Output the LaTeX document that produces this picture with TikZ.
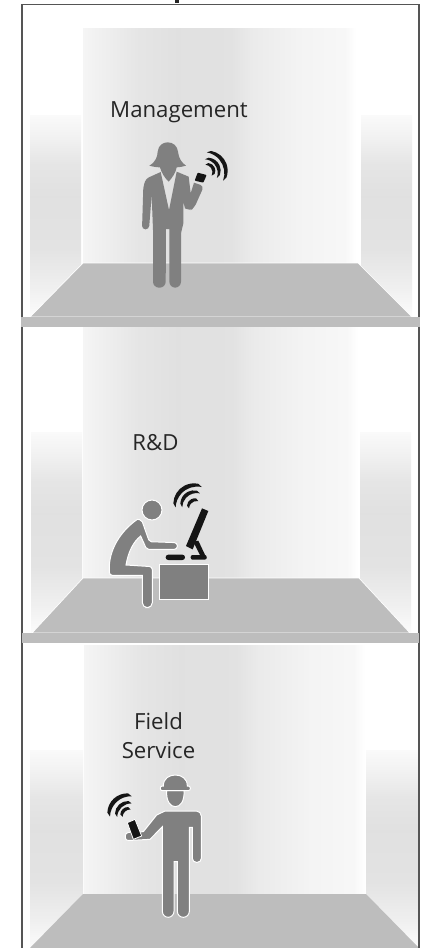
\documentclass[tikz,border=0pt]{standalone}
\usepackage{fontspec}
\setmainfont{Open Sans}
\definecolor{figgray}{HTML}{808080}
\definecolor{floorgray}{HTML}{BDBDBD}
\definecolor{framegray}{HTML}{555555}
\definecolor{inkblack}{HTML}{151515}
\pgfdeclarehorizontalshading{backwall}{100bp}{color(0bp)=(white!96!black); color(25bp)=(white!96!black); color(30bp)=(white!93!black); color(35bp)=(white!90!black); color(42bp)=(white!88!black); color(52bp)=(white!88.5!black); color(56bp)=(white!92!black); color(65bp)=(white!95.5!black); color(73bp)=(white!97!black); color(75bp)=(white); color(100bp)=(white)}
\pgfdeclareverticalshading{sidewall}{100bp}{color(0bp)=(white); color(25bp)=(white!99!black); color(32bp)=(white!94!black); color(42bp)=(white!89!black); color(55bp)=(white!88!black); color(63bp)=(white!90!black); color(70bp)=(white!95!black); color(75bp)=(white!98!black); color(100bp)=(white!98!black)}
\tikzset{
  backwallfill/.style={shading=backwall},
  sidefill/.style={shading=sidewall},
  floorfill/.style={fill=floorgray,draw=white,line width=.7pt},
  barfill/.style={fill=floorgray},
  frameline/.style={draw=framegray,line width=1.1pt},
  label/.style={text=black!85,font=\fontsize{22.2}{26}\selectfont,inner sep=0pt,anchor=base},
  figure/.style={fill=figgray},
  figureout/.style={fill=figgray,draw=white,line width=1pt},
  inkfill/.style={fill=inkblack},
  inkout/.style={fill=inkblack,draw=white,line width=.8pt},
}
% centre x, centre y, start angle, end angle, outer radius, middle width, taper offset
\newcommand\crescent[7]{%
  \pgfmathsetmacro\midang{(#3+#4)/2}%
  \pgfmathsetmacro\innerrad{#5+#7-#6}%
  \path[inkfill] ([shift={(#3:#5)}]#1,#2) arc[start angle=#3,end angle=#4,radius=#5]
    -- ([shift={(\midang:-#7)},shift={(#4:\innerrad)}]#1,#2)
    arc[start angle=#4,end angle=#3,radius=\innerrad] -- cycle;}
\begin{document}
\begin{tikzpicture}[x=1pt,y=-1pt]
\useasboundingbox (0,0) rectangle (431,948);
\clip (0,0) rectangle (431,948);
\fill[white] (0,0) rectangle (431,948);
% title remnant
\fill[black!85] (175,0) rectangle (179,3);
% room 1
\shade[backwallfill] (83,28) rectangle (356,264);
\shade[sidefill] (30,115) rectangle (81,317);
\shade[sidefill] (361,115) rectangle (412,317);
\path[floorfill] (83,263) -- (358,263) -- (412,317) -- (30,317) -- cycle;
% room 2
\shade[backwallfill] (83,327) rectangle (358,579);
\shade[sidefill] (31,432) rectangle (82,634);
\shade[sidefill] (360,432) rectangle (411,634);
\path[floorfill] (83,578) -- (359,578) -- (410,633) -- (32,633) -- cycle;
% room 3
\shade[backwallfill] (84,645) rectangle (365,895);
\shade[sidefill] (30,750) rectangle (83,950);
\shade[sidefill] (366,750) rectangle (418,950);
\path[fill=floorgray] (83,894) -- (366,894) -- (419,948) -- (30,948) -- cycle;
% frame and bars
\draw[frameline] (22,948) -- (22,4.5) -- (419,4.5) -- (419,948);
\path[barfill] (21,317) rectangle (420,327);
\path[barfill] (22,633) rectangle (419,643);
% labels
\node[label] (mgmt) at (179,117) {Management};
\node[label] (rnd) at (155.5,450) {R\&D};
\node[label] (field) at (158.5,729) {Field};
\node[label] (service) at (158.5,758) {Service};
% woman
\begin{scope}[shift={(120,130)},scale=1/3]
\path[figure] (122,126) [rounded corners=3pt] -- (78,146) -- (70,170) [rounded corners=3.4pt] -- (66,298) -- (87,298) [sharp corners] -- (95,195) -- (99,300) [rounded corners=6pt] -- (99,473) -- (137,473) [sharp corners] -- (138,297) -- (148,297) [rounded corners=6pt] -- (148,473) -- (183,473) [sharp corners] -- (183,310) -- (190,280) -- (190,215) -- (195,235) [rounded corners=4pt] -- (208,242) -- (222,235) -- (252,168) [sharp corners] -- (222,158) -- (212,190) -- (206,140) -- (170,125) -- (147,240) -- cycle;
\path[figure] (88,107) .. controls (108,95) and (112,80) .. (113,65) .. controls (115,45) and (130,37) .. (143,37) .. controls (160,37) and (172,48) .. (174,65) .. controls (176,85) and (185,98) .. (198,107) .. controls (188,110) and (178,112) .. (170,112) .. controls (168,128) and (155,145) .. (146,155) .. controls (135,145) and (124,128) .. (120,112) .. controls (110,112) and (98,110) .. (88,107) -- cycle;
\path[inkfill,rounded corners=.8pt] (233,128) -- (260,135) -- (250,158) -- (224,152) -- cycle;
\crescent{263}{122}{-80}{20}{60}{12}{16}
\crescent{263}{122}{-85}{20}{39}{11}{14}
\crescent{263}{122}{-85}{25}{23}{10}{10}
\end{scope}
% man at desk
\begin{scope}[shift={(100,470)},scale=1/3]
\path[figureout] (156,120) circle[radius=30];
\path[figureout] (112,148) [rounded corners=2pt] -- (125,150) -- (148,215) [rounded corners=3pt] -- (232,218) -- (232,238) [rounded corners=2pt] -- (140,238) [sharp corners] -- (122,198) .. controls (100,215) and (85,245) .. (78,285) [rounded corners=3pt] -- (157,290) [rounded corners=5pt] -- (157,413) -- (127,413) [sharp corners] -- (127,316) [rounded corners=3pt] -- (28,316) [sharp corners] -- (28,285) .. controls (32,235) and (60,185) .. (112,148) -- cycle;
\path[figureout] (177,283) rectangle (325,387);
\path[inkfill,rounded corners=2.6pt] (197,254) rectangle (255,270);
\path[inkfill,rounded corners=2pt] (272,255) rectangle (320,269);
\path[inkfill] (280,215) -- (295,212) -- (320,265) -- (305,265) -- cycle;
\path[inkfill] (306,115) -- (325,123) -- (278,238) -- (258,228) -- cycle;
\crescent{282}{102}{-178}{-78}{62}{13}{16}
\crescent{282}{102}{-178}{-78}{41}{11}{14}
\crescent{284}{108}{-178}{-78}{23}{10}{10}
\end{scope}
% field service
\begin{scope}[shift={(100,770)},scale=1/3]
\path[figureout] (200,62) -- (252,62) .. controls (254,95) and (240,110) .. (226,110) .. controls (212,110) and (198,95) .. (200,62) -- cycle;
\path[figureout] (190,48) .. controls (190,25) and (208,15) .. (226,15) .. controls (244,15) and (262,25) .. (262,48) [rounded corners=2pt] -- (271,48) -- (271,62) -- (181,62) -- (181,48) [sharp corners] -- cycle;
\path[figureout] (195,123) [rounded corners=5pt] -- (304,123) [rounded corners=4pt] -- (304,277) -- (277,277) [sharp corners] -- (277,172) -- (268,172) [rounded corners=6pt] -- (268,442) -- (232,442) [sharp corners] -- (232,275) -- (222,275) [rounded corners=6pt] -- (222,442) -- (187,442) [sharp corners] -- (187,170) -- (150,208) [rounded corners=3pt] -- (76,212) -- (76,188) [sharp corners] -- (130,185) -- (170,135) -- cycle;
\path[inkout] (82,158) -- (105,148) -- (125,198) -- (100,208) -- cycle;
\crescent{82}{130}{-178}{-88}{60}{13}{16}
\crescent{84}{132}{-178}{-88}{39}{11}{14}
\crescent{84}{134}{-178}{-88}{23}{10}{10}
\end{scope}
\end{tikzpicture}
\end{document}
